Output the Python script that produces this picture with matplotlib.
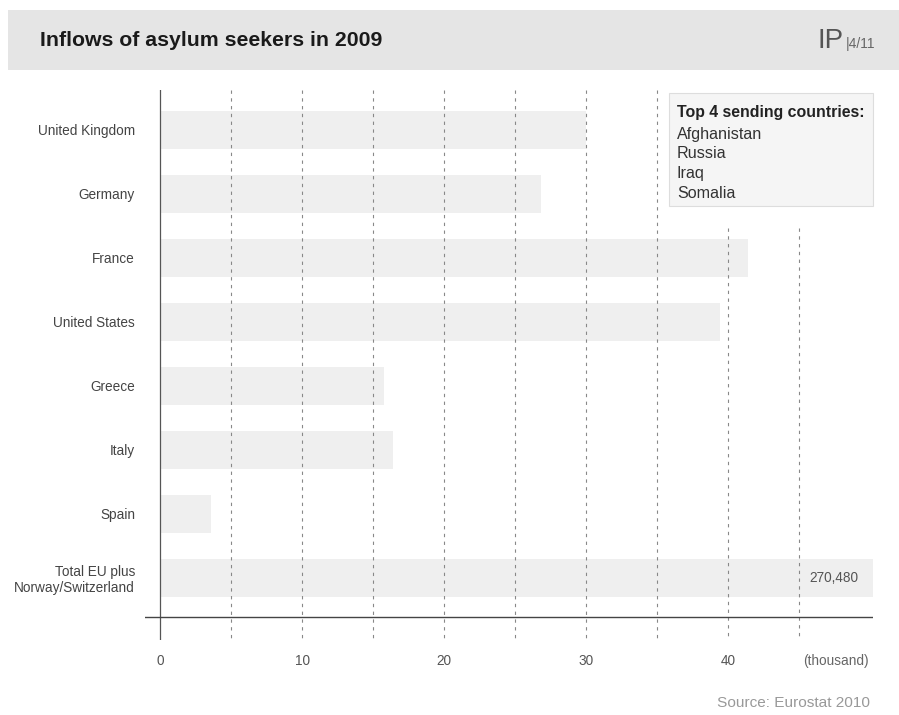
import matplotlib
matplotlib.use('Agg')
import matplotlib.pyplot as plt
from matplotlib.patches import Rectangle

countries = ['United Kingdom', 'Germany', 'France', 'United States',
             'Greece', 'Italy', 'Spain', 'Total EU plus\nNorway/Switzerland']
values = [30.0, 26.8, 41.4, 39.4, 15.8, 16.4, 3.6, 270.48]  # thousand
total_label = '270,480'
xtick_vals = [0, 10, 20, 30, 40]
grid_vals = [5, 10, 15, 20, 25, 30, 35, 40, 45]
senders = ['Afghanistan', 'Russia', 'Iraq', 'Somalia']

plt.rcParams['font.family'] = ['Liberation Sans', 'DejaVu Sans']

W, H = 899, 715
fig = plt.figure(figsize=[W / 100, H / 100], dpi=100)

def fx(x):
    return x / W

def fy(y):
    return 1 - y / H

# header band
fig.patches.append(Rectangle((fx(8), fy(70)), 1 - fx(8), 60 / H,
                             transform=fig.transFigure, facecolor='#e5e5e5',
                             edgecolor='none', zorder=0))
fig.text(fx(40), fy(41), 'Inflows of asylum seekers in 2009', fontsize=15.3,
         fontweight='bold', color='#1a1a1a', va='center', ha='left')
fig.text(fx(818), fy(41), 'IP', fontsize=20, fontweight='light', color='#555555',
         va='center', ha='left')
fig.text(fx(846), fy(44), '|4/11', fontsize=10, color='#666666', va='center', ha='left')

# axes: x=0 at px 160, 14.2 px per thousand
ax = fig.add_axes([fx(145), fy(640), (873 - 145) / W, (640 - 90) / H])
ax.set_xlim(-1.06, 50.2)
ax.set_ylim(7.97, -0.625)
for s in ax.spines.values():
    s.set_visible(False)

ypos = list(range(len(countries)))
ax.barh(ypos, values, height=0.59, color='#efefef', zorder=1)

for g in grid_vals:
    top = -0.625 if g < 40 else 1.53
    ax.vlines(g, top, 7.97, color='#888888', linewidth=0.8,
              linestyle=(0, (3, 4)), zorder=2)

ax.axvline(0, color='#555555', linewidth=0.9, zorder=3)
ax.axhline(7.61, color='#444444', linewidth=1.0, zorder=3)

ax.set_yticks(ypos)
ax.set_yticklabels(countries, fontsize=9.8, color='#444444', ha='right',
                   multialignment='right', linespacing=1.15)
ax.tick_params(axis='y', length=0, pad=7.2)
ax.set_xticks(xtick_vals)
ax.set_xticklabels([str(v) for v in xtick_vals], fontsize=9.8, color='#555555')
ax.tick_params(axis='x', length=0, pad=10)
ax.text(45.3, 8.3, '(thousand)', fontsize=9.8, color='#666666', ha='left',
        va='center', clip_on=False)

ax.text(49.2, 7, total_label, fontsize=9.8, color='#555555', ha='right',
        va='center', zorder=4)

# legend box
fig.patches.append(Rectangle((fx(669), fy(206)), (873 - 669) / W, (206 - 93) / H,
                             transform=fig.transFigure, facecolor='#f5f5f5',
                             edgecolor='#dddddd', linewidth=0.8, zorder=5))
fig.text(fx(677), fy(112), 'Top 4 sending countries:', fontsize=11.4,
         fontweight='bold', color='#222222', va='center', zorder=6)
for i, s in enumerate(senders):
    fig.text(fx(677), fy(134 + 19.7 * i), s, fontsize=11.6, color='#333333',
             va='center', zorder=6)

fig.text(fx(870), fy(703), 'Source: Eurostat 2010', fontsize=11.1,
         color='#999999', ha='right', va='center')

plt.savefig('out.png')
